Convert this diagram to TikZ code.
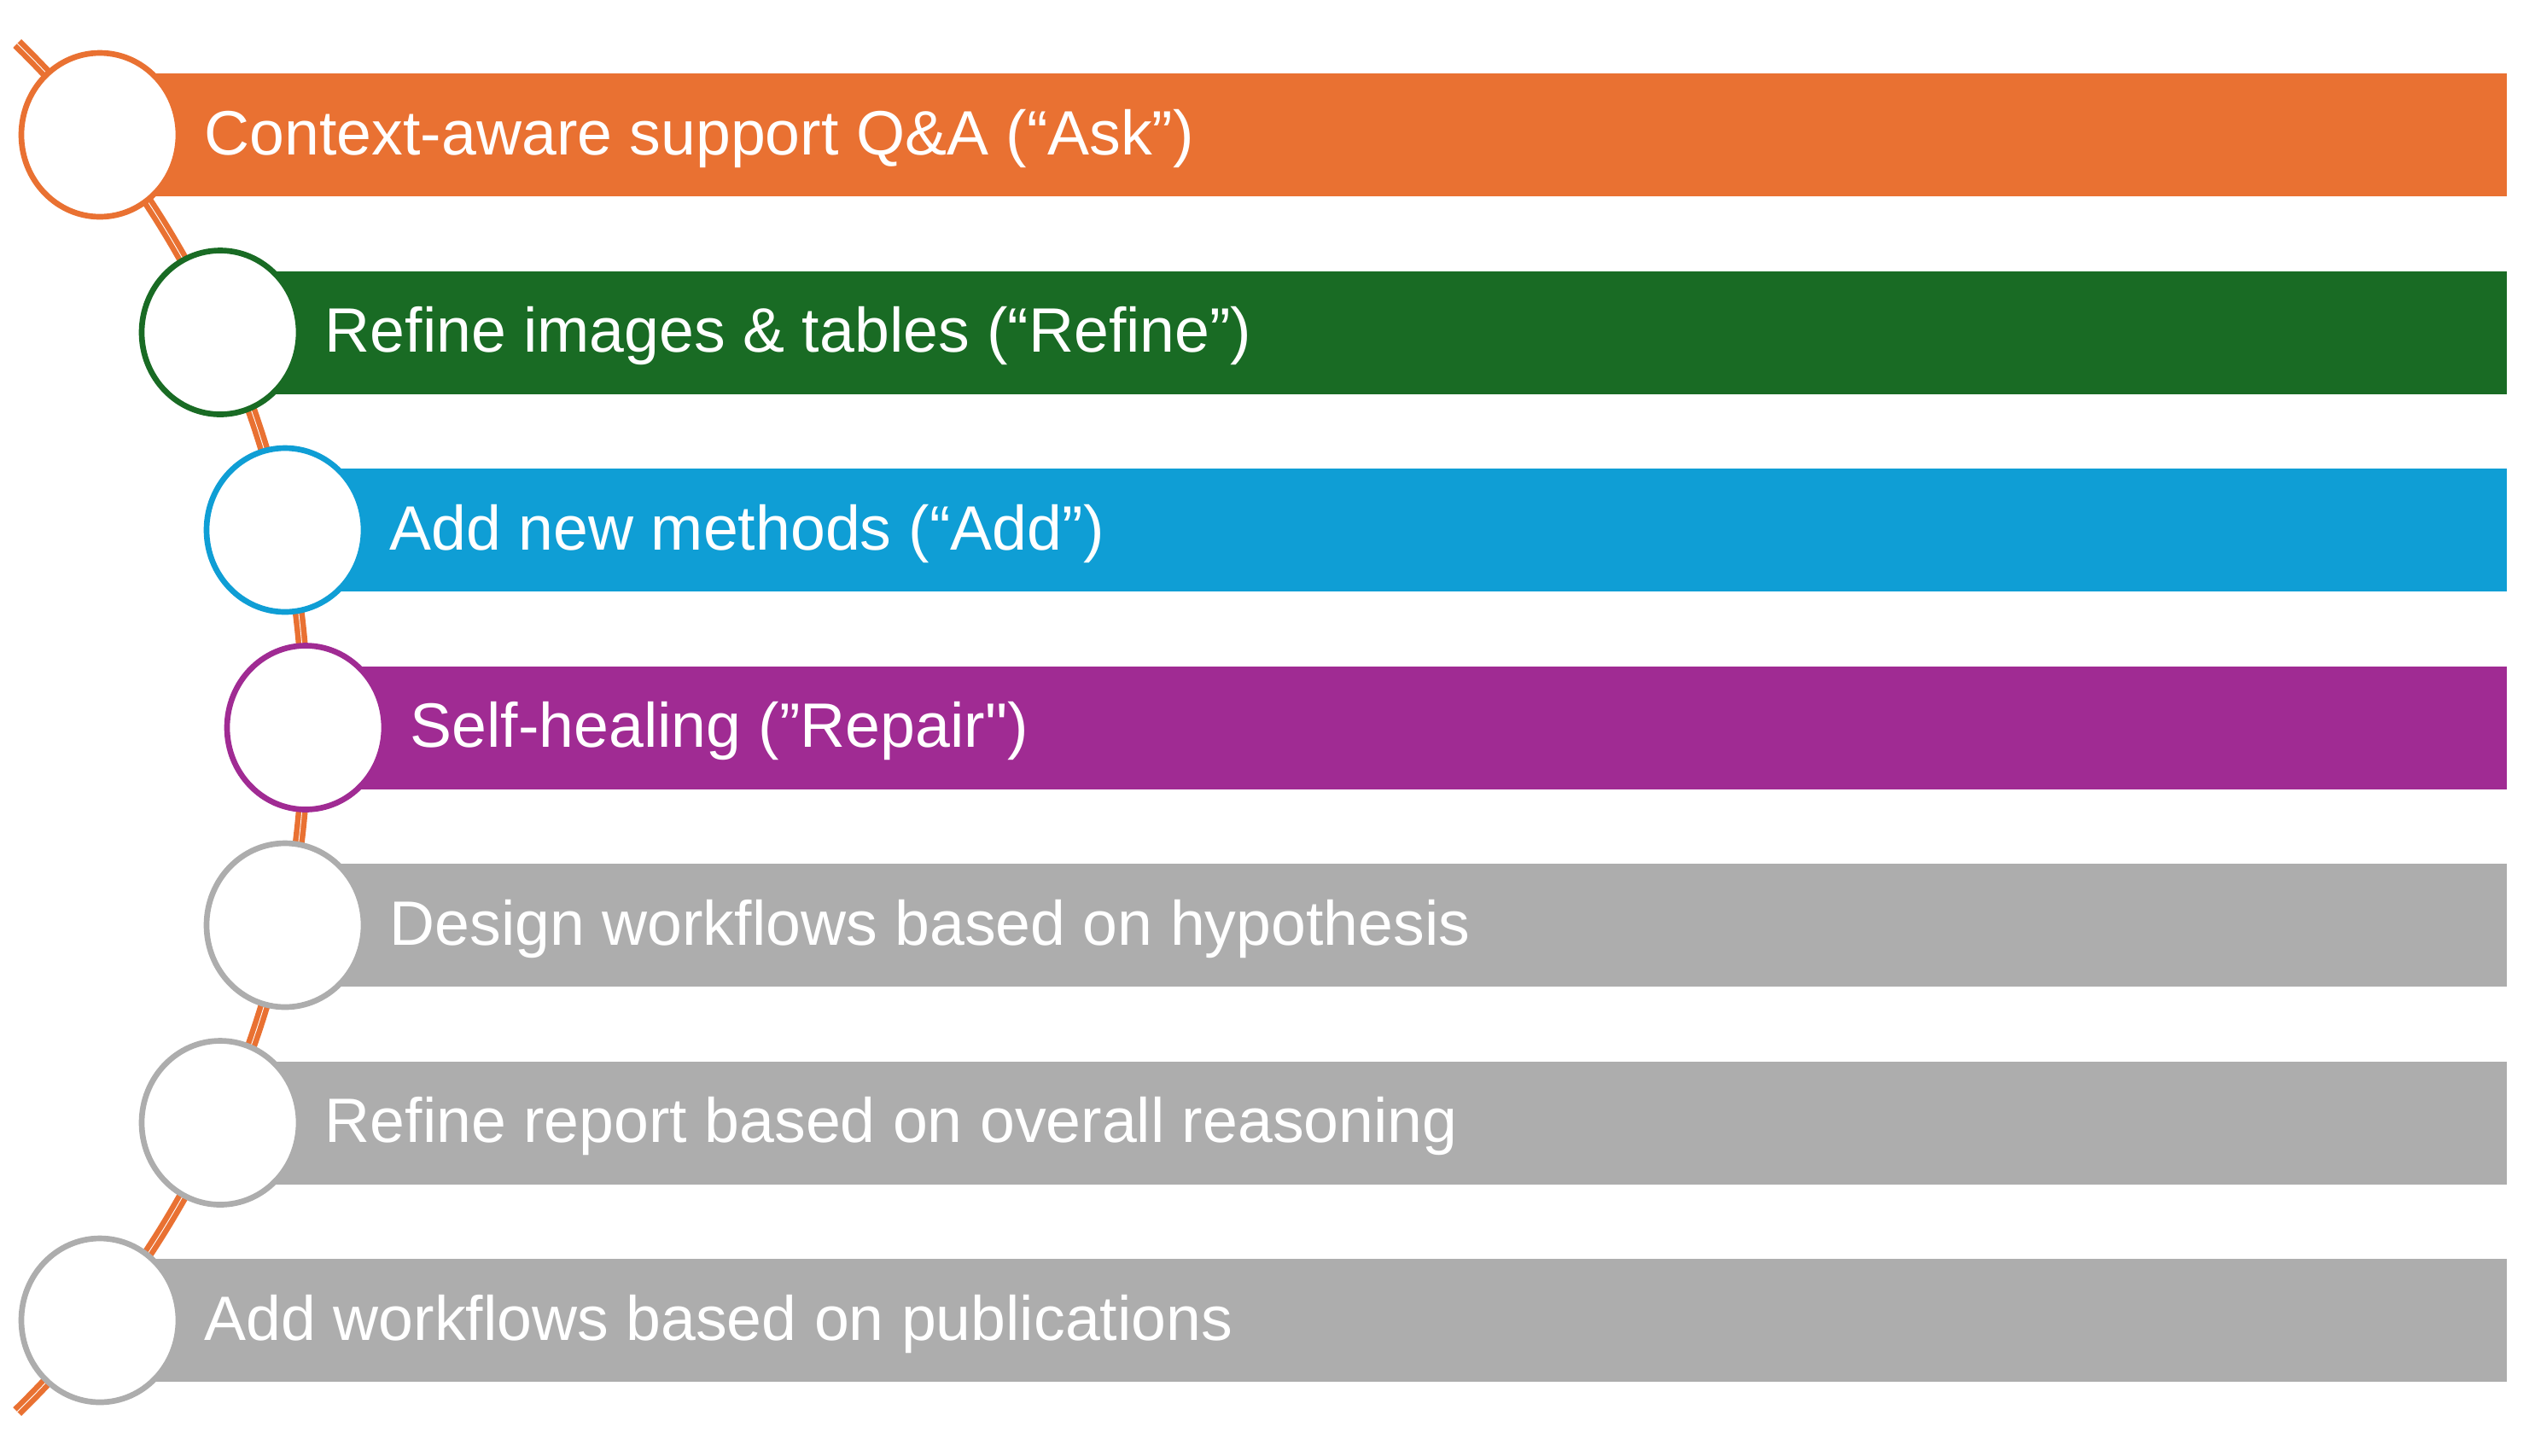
\documentclass[tikz,border=0pt]{standalone}
\usepackage{fontspec}
\setmainfont{Liberation Sans}[Ligatures=TeXOff]
\usetikzlibrary{shapes.geometric}

\definecolor{askc}{HTML}{E97132}
\definecolor{refinec}{HTML}{196B24}
\definecolor{addc}{HTML}{0F9ED5}
\definecolor{repairc}{HTML}{A02B93}
\definecolor{todoc}{HTML}{ADADAD}

\tikzset{
    spine/.style={draw=askc,line width=1.85pt,double=white,double distance=0.25pt},
    stepdot/.style={ellipse,fill=white,line width=1.9pt,minimum width=1.84cm,minimum height=1.92cm,inner sep=0pt},
    steptext/.style={text=white,inner sep=0pt,font=\fontsize{20.9}{25}\selectfont}
}

\newcommand{\Step}[5]{%
    \fill[#4] (#2,#3-0.72) rectangle (29.37,#3+0.72);
    \node[stepdot,draw=#4] (c#1) at (#2,#3) {};
    \node[steptext,anchor=base west] (t#1) at ([shift={(1.22,-0.23)}]c#1.center) {#5};
}

\begin{document}
\begin{tikzpicture}
        \useasboundingbox (0,0) rectangle (29.7,-17.05);
        \draw[spine] (-7.62,-8.525) ++(45.7:11.2) arc[start angle=45.7,end angle=-45.7,radius=11.2];
        \Step{1}{1.17}{-1.58}{askc}{Context-aware support Q\&A (“Ask”)};
        \Step{2}{2.58}{-3.895}{refinec}{Refine images \& tables (“Refine”)};
        \Step{3}{3.34}{-6.21}{addc}{Add new methods (“Add”)};
        \Step{4}{3.58}{-8.525}{repairc}{Self-healing (”Repair")};
        \Step{5}{3.34}{-10.84}{todoc}{Design workflows based on hypothesis};
        \Step{6}{2.58}{-13.155}{todoc}{Refine report based on overall reasoning};
        \Step{7}{1.17}{-15.47}{todoc}{Add workflows based on publications};
    \end{tikzpicture}
\end{document}
